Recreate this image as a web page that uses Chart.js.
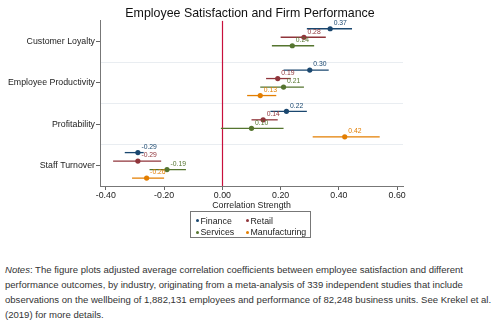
<!DOCTYPE html>
<html>
<head>
<meta charset="utf-8">
<script src="https://cdn.jsdelivr.net/npm/chart.js@4/dist/chart.umd.min.js"></script>
<style>
  html, body { margin: 0; padding: 0; background: #fff; }
  body { width: 500px; height: 325px; position: relative; overflow: hidden; font-family: "Liberation Sans", Arial, sans-serif; }
  #wrap { position: absolute; left: 0; top: 0; width: 500px; height: 245px; }
  #legend { position: absolute; left: 190px; top: 211px; width: 121px; height: 27px; border: 1px solid #777; box-sizing: border-box; font-size: 8.8px; color: #222; }
  .li { position: absolute; white-space: nowrap; line-height: 10px; }
  .dot { display: inline-block; width: 3px; height: 3px; border-radius: 50%; margin-right: 1.5px; vertical-align: 1.5px; }
  #notes { position: absolute; left: 5px; top: 262px; width: 492px; font-size: 9.55px; line-height: 15px; color: #333; white-space: nowrap; }
</style>
</head>
<body>
<div id="wrap"><canvas id="c" width="500" height="245"></canvas></div>
<div id="legend"></div>
<div id="notes"><i>Notes</i>: The figure plots adjusted average correlation coefficients between employee satisfaction and different<br>performance outcomes, by industry, originating from a meta-analysis of 339 independent studies that include<br>observations on the wellbeing of 1,882,131 employees and performance of 82,248 business units. See Krekel et al.<br>(2019) for more details.</div>
<script>
const categories = ['Customer Loyalty', 'Employee Productivity', 'Profitability', 'Staff Turnover'];
const seriesNames = ['Finance', 'Retail', 'Services', 'Manufacturing'];
const xTickValues = [-0.4, -0.2, 0, 0.2, 0.4, 0.6];

const financeEst  = [0.37, 0.30, 0.22, -0.29];
const financeLow  = [0.29, 0.21, 0.165, -0.335];
const financeHigh = [0.445, 0.365, 0.29, -0.27];

const retailEst  = [0.28, 0.19, 0.14, -0.29];
const retailLow  = [0.20, 0.15, 0.10, -0.375];
const retailHigh = [0.355, 0.235, 0.19, -0.21];

const servicesEst  = [0.24, 0.21, 0.10, -0.19];
const servicesLow  = [0.17, 0.13, -0.005, -0.25];
const servicesHigh = [0.315, 0.28, 0.21, -0.125];

const manufacturingEst  = [null, 0.13, 0.42, -0.26];
const manufacturingLow  = [null, 0.085, 0.31, -0.31];
const manufacturingHigh = [null, 0.185, 0.54, -0.20];

const est  = [financeEst, retailEst, servicesEst, manufacturingEst];
const low  = [financeLow, retailLow, servicesLow, manufacturingLow];
const high = [financeHigh, retailHigh, servicesHigh, manufacturingHigh];
const colors = ['#1a476f', '#90353b', '#55752f', '#e37e00'];
const offsets = [-0.309, -0.103, 0.103, 0.309];
const FONT = '"Liberation Sans", Arial, sans-serif';

const datasets = seriesNames.map((name, s) => ({
  label: name,
  data: est[s].map((v, i) => v === null ? null : { x: v, y: i + offsets[s] }).filter(p => p !== null),
  backgroundColor: colors[s],
  borderColor: colors[s],
  borderWidth: 0,
  pointRadius: 2.6,
  pointHoverRadius: 2.6
}));

const errorBars = {
  id: 'errorBars',
  beforeDatasetsDraw(chart) {
    const { ctx, scales: { x, y }, chartArea } = chart;
    ctx.save();
    // zero reference line
    const zx = Math.round(x.getPixelForValue(0)) + 0.5;
    ctx.strokeStyle = '#c8103c';
    ctx.lineWidth = 1.2;
    ctx.beginPath();
    ctx.moveTo(zx, chartArea.top);
    ctx.lineTo(zx, chartArea.bottom);
    ctx.stroke();
    ctx.lineWidth = 1.3;
    for (let s = 0; s < seriesNames.length; s++) {
      ctx.strokeStyle = colors[s];
      for (let i = 0; i < categories.length; i++) {
        if (est[s][i] === null) continue;
        const py = y.getPixelForValue(i + offsets[s]);
        ctx.beginPath();
        ctx.moveTo(x.getPixelForValue(low[s][i]), py);
        ctx.lineTo(x.getPixelForValue(high[s][i]), py);
        ctx.stroke();
      }
    }
    ctx.restore();
  },
  afterDatasetsDraw(chart) {
    const { ctx, scales: { x, y } } = chart;
    ctx.save();
    ctx.font = '6.8px ' + FONT;
    ctx.textAlign = 'left';
    ctx.textBaseline = 'middle';
    for (let s = 0; s < seriesNames.length; s++) {
      ctx.fillStyle = colors[s];
      for (let i = 0; i < categories.length; i++) {
        const v = est[s][i];
        if (v === null) continue;
        const px = x.getPixelForValue(v);
        const py = y.getPixelForValue(i + offsets[s]);
        ctx.fillText(v.toFixed(2), px + 3.5, py - 5.5);
      }
    }
    ctx.restore();
  }
};

new Chart(document.getElementById('c'), {
  type: 'scatter',
  data: { datasets },
  plugins: [errorBars],
  options: {
    responsive: false,
    animation: false,
    devicePixelRatio: 1,
    layout: { padding: { left: 0, right: 0, top: 0, bottom: 0 } },
    plugins: {
      legend: { display: false },
      tooltip: { enabled: false },
      title: {
        display: true,
        text: 'Employee Satisfaction and Firm Performance',
        color: '#111',
        font: { family: FONT, size: 12.4, weight: 'normal', lineHeight: 1.2 },
        padding: { top: 6, bottom: 0 }
      }
    },
    scales: {
      x: {
        type: 'linear',
        min: -0.42,
        max: 0.62,
        afterBuildTicks: (scale) => { scale.ticks = xTickValues.map(v => ({ value: v })); },
        afterFit: (scale) => { scale.height = 59; },
        ticks: {
          color: '#222',
          padding: 1,
          maxRotation: 0,
          font: { family: FONT, size: 8.8, lineHeight: 1 },
          callback: (v) => Number(v).toFixed(2)
        },
        grid: { drawOnChartArea: false, drawTicks: true, tickLength: 4, tickColor: '#666' },
        border: { display: true, color: '#777', width: 1 },
        title: {
          display: true,
          text: 'Correlation Strength',
          color: '#222',
          font: { family: FONT, size: 8.8, lineHeight: 1.2 },
          padding: { top: 0, bottom: 34.5 }
        }
      },
      y: {
        type: 'linear',
        reverse: true,
        min: -0.5,
        max: 3.5,
        afterBuildTicks: (scale) => {
          const t = [];
          for (let k = -0.5; k <= categories.length - 0.5 + 1e-9; k += 0.5) t.push({ value: k });
          scale.ticks = t;
        },
        afterFit: (scale) => { scale.width = 100; },
        ticks: {
          color: '#222',
          padding: 1,
          font: { family: FONT, size: 8.8 },
          callback: (v) => Number.isInteger(v) ? categories[v] : ''
        },
        grid: {
          drawTicks: true,
          tickLength: 4,
          color: (c) => (c.tick && !Number.isInteger(c.tick.value) && c.tick.value > -0.5 && c.tick.value < 3.5) ? '#e9edf1' : 'rgba(0,0,0,0)',
          tickColor: (c) => (c.tick && Number.isInteger(c.tick.value)) ? '#666' : 'rgba(0,0,0,0)',
          lineWidth: 1
        },
        border: { display: true, color: '#777', width: 1 }
      },
      yRight: {
        type: 'linear',
        position: 'right',
        display: true,
        min: 0,
        max: 1,
        ticks: { display: false },
        grid: { display: false, drawTicks: false },
        border: { display: false },
        afterFit: (scale) => { scale.width = 97; }
      }
    }
  }
});

// HTML legend built from the series names and colours
const legendPos = [[5, 3.5], [55, 3.5], [5, 15], [55, 15]];
const lg = document.getElementById('legend');
seriesNames.forEach((name, s) => {
  const el = document.createElement('div');
  el.className = 'li';
  el.style.left = legendPos[s][0] + 'px';
  el.style.top = legendPos[s][1] + 'px';
  el.innerHTML = '<span class="dot" style="background:' + colors[s] + '"></span>' + name;
  lg.appendChild(el);
});
</script>
</body>
</html>
